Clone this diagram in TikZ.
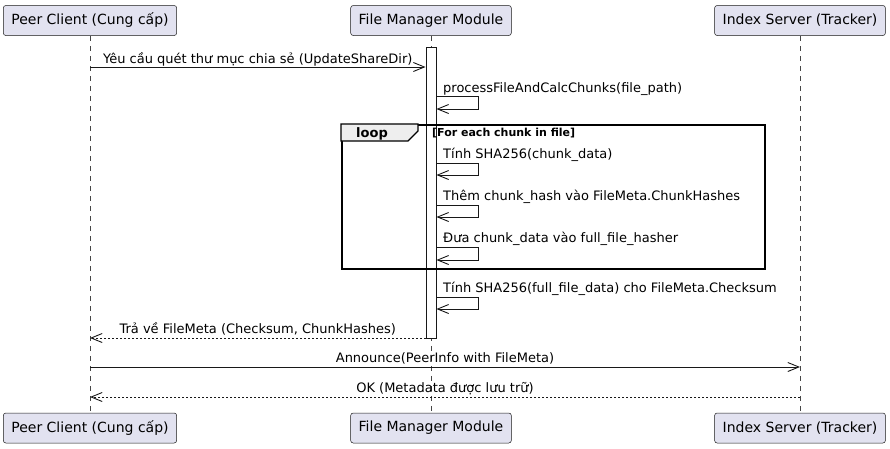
\documentclass[tikz,border=0pt]{standalone}
\usepackage{fontspec}
\setmainfont{DejaVu Sans}
\usetikzlibrary{arrows.meta, positioning, calc}
\definecolor{Actor}{HTML}{E2E2F0}
\definecolor{Border}{HTML}{181818}
\definecolor{Tab}{HTML}{EEEEEE}

\tikzset{
  actor/.style={draw=Border, fill=Actor, rounded corners=2.5pt, line width=0.5pt,
    minimum height=30pt, inner xsep=8pt, font=\fontsize{14}{16}\selectfont},
  lifeline/.style={draw=Border!80, line width=0.6pt, dash pattern=on 5pt off 5pt},
  msg/.style={draw=Border, line width=0.9pt, -{Straight Barb[length=11pt, width=9pt]}},
  reply/.style={msg, dash pattern=on 2pt off 2pt},
  lbl/.style={font=\fontsize{13}{15}\selectfont, inner sep=0pt},
}

\begin{document}
\begin{tikzpicture}[x=1pt, y=-1pt]
            \useasboundingbox (0,0) rectangle (890,448);

            % participants
            \node[actor] (pcTop) at (90,20.5) {Peer Client (Cung cấp)};
            \node[actor] (fmTop) at (431,20.5) {File Manager Module};
            \node[actor] (isTop) at (800,20.5) {Index Server (Tracker)};
            \node[actor] (pcBot) at (90,428) {Peer Client (Cung cấp)};
            \node[actor] (fmBot) at (431,428) {File Manager Module};
            \node[actor] (isBot) at (800,428) {Index Server (Tracker)};

            \draw[lifeline] (pcTop) -- (pcBot);
            \draw[lifeline] (fmTop) -- (fmBot);
            \draw[lifeline] (isTop) -- (isBot);

            % activation
            \node[draw=Border, fill=white, line width=0.9pt, inner sep=0pt, anchor=north,
                  minimum width=10pt, minimum height=291pt] (act) at (431,47) {};

            % loop frame
            \node[draw=black, line width=1.5pt, inner sep=0pt, anchor=north west,
                  minimum width=423pt, minimum height=144pt] (loopbox) at (341,124) {};
            \draw[fill=Tab, line width=1.2pt] (loopbox.north west) -- ++(77,0) -- ++(0,7)
                -- ++(-10,10) -- ($(loopbox.north west)+(0,17)$) -- cycle;
            \node[anchor=base, font=\fontsize{13}{15}\selectfont\bfseries, inner sep=0pt]
                (looplbl) at (372,137) {loop};
            \node[anchor=base west, font=\fontsize{11}{13}\selectfont\bfseries, inner sep=0pt]
                (guard) at (432,136) {[For each chunk in file]};

            % messages
            \draw[msg] (pcTop.south |- 0,67) coordinate (m1a) -- (act.west |- 0,67) coordinate (m1b);
            \node[lbl, anchor=base] (m1) at ($(m1a)!0.5!(m1b)+(0,-4)$) {Yêu cầu quét thư mục chia sẻ (UpdateShareDir)};

            \draw[msg] (act.east |- 0,96) -- ++(42,0) |- (act.east |- 0,109);
            \node[lbl, anchor=base west] (m2) at (443,92) {processFileAndCalcChunks(file\_path)};

            \draw[msg] (act.east |- 0,163) -- ++(42,0) |- (act.east |- 0,175);
            \node[lbl, anchor=base west] (m3) at (443,158) {Tính SHA256(chunk\_data)};

            \draw[msg] (act.east |- 0,205) -- ++(42,0) |- (act.east |- 0,217);
            \node[lbl, anchor=base west] (m4) at (443,200) {Thêm chunk\_hash vào FileMeta.ChunkHashes};

            \draw[msg] (act.east |- 0,247) -- ++(42,0) |- (act.east |- 0,260);
            \node[lbl, anchor=base west] (m5) at (443,242) {Đưa chunk\_data vào full\_file\_hasher};

            \draw[msg] (act.east |- 0,297) -- ++(42,0) |- (act.east |- 0,309);
            \node[lbl, anchor=base west] (m6) at (443,292) {Tính SHA256(full\_file\_data) cho FileMeta.Checksum};

            \draw[reply] (act.west |- 0,338) coordinate (m7a) -- (pcTop.south |- 0,338) coordinate (m7b);
            \node[lbl, anchor=base] (m7) at ($(m7a)!0.5!(m7b)+(0,-5)$) {Trả về FileMeta (Checksum, ChunkHashes)};

            \draw[msg] (pcTop.south |- 0,367) coordinate (m8a) -- (isTop.south |- 0,367) coordinate (m8b);
            \node[lbl, anchor=base] (m8) at ($(m8a)!0.5!(m8b)+(0,-5)$) {Announce(PeerInfo with FileMeta)};

            \draw[reply] (isTop.south |- 0,397) coordinate (m9a) -- (pcTop.south |- 0,397) coordinate (m9b);
            \node[lbl, anchor=base] (m9) at ($(m9a)!0.5!(m9b)+(0,-5)$) {OK (Metadata được lưu trữ)};
        \end{tikzpicture}
\end{document}
